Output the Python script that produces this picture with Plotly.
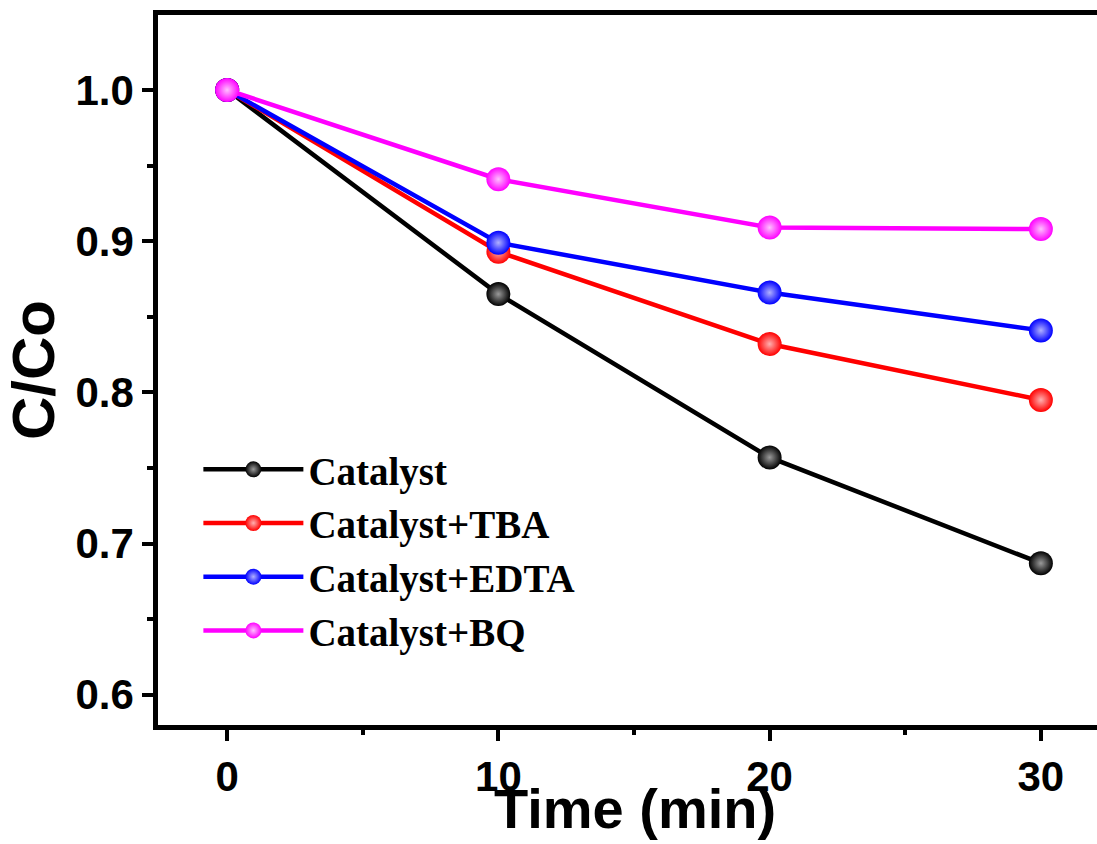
import plotly.graph_objects as go

time_min = [0, 10, 20, 30]
catalyst = [1.0, 0.865, 0.757, 0.687]
catalyst_tba = [1.0, 0.893, 0.832, 0.795]
catalyst_edta = [1.0, 0.899, 0.866, 0.841]
catalyst_bq = [1.0, 0.941, 0.909, 0.908]

series = [
    ("Catalyst", catalyst, "#000000", "#9a9a9a"),
    ("Catalyst+TBA", catalyst_tba, "#ff0000", "#ffb0b0"),
    ("Catalyst+EDTA", catalyst_edta, "#0000ff", "#b0b0ff"),
    ("Catalyst+BQ", catalyst_bq, "#ff00ff", "#ffc0ff"),
]

fig = go.Figure()
for name, vals, col, hl in series:
    fig.add_trace(go.Scatter(
        x=time_min, y=vals, name=name, mode="lines+markers",
        line=dict(color=col, width=4.5),
        marker=dict(size=24, color=col, line=dict(width=0),
                    gradient=dict(type="radial", color=hl)),
    ))

axis_font = dict(family="Liberation Sans, Arial, sans-serif", size=42, color="black", weight="bold")
fig.update_layout(
    width=1097, height=844,
    margin=dict(l=158, r=0, t=15, b=119),
    paper_bgcolor="white", plot_bgcolor="white",
    showlegend=True,
    legend=dict(
        x=0.043, y=0.405, xanchor="left", yanchor="top",
        font=dict(family="Liberation Serif, Times New Roman, serif", size=39, color="black", weight="bold"),
        bgcolor="rgba(0,0,0,0)", borderwidth=0, itemwidth=100, tracegroupgap=0,
    ),
    xaxis=dict(
        range=[-2.55, 32.07], showgrid=False, zeroline=False,
        showline=True, linecolor="black", linewidth=4.5, mirror=True,
        ticks="outside", ticklen=11, tickwidth=4, tickcolor="black",
        tickvals=[0, 10, 20, 30], ticktext=["0", "10", "20", "30"],
        tickfont=axis_font,
        minor=dict(dtick=5, ticks="outside", ticklen=5, tickwidth=4, tickcolor="black", showgrid=False),
    ),
    yaxis=dict(
        range=[0.580, 1.0496], showgrid=False, zeroline=False,
        showline=True, linecolor="black", linewidth=4.5, mirror=False,
        ticks="outside", ticklen=11, tickwidth=4, tickcolor="black",
        tickvals=[0.6, 0.7, 0.8, 0.9, 1.0], ticktext=["0.6", "0.7", "0.8", "0.9", "1.0"],
        tickfont=axis_font,
        minor=dict(dtick=0.05, ticks="outside", ticklen=6, tickwidth=4, tickcolor="black", showgrid=False),
        title=dict(text="C/Co", standoff=12,
                   font=dict(family="Liberation Sans, Arial, sans-serif", size=60, color="black", weight="bold")),
    ),
    annotations=[dict(
        text="Time (min)", xref="paper", yref="paper", x=0.508, y=-0.118,
        xanchor="center", yanchor="middle", showarrow=False,
        font=dict(family="Liberation Sans, Arial, sans-serif", size=56, color="black", weight="bold"),
    )],
)

fig.write_html("out.html", config={"displayModeBar": False},
               post_script="document.body.style.margin='0';")
